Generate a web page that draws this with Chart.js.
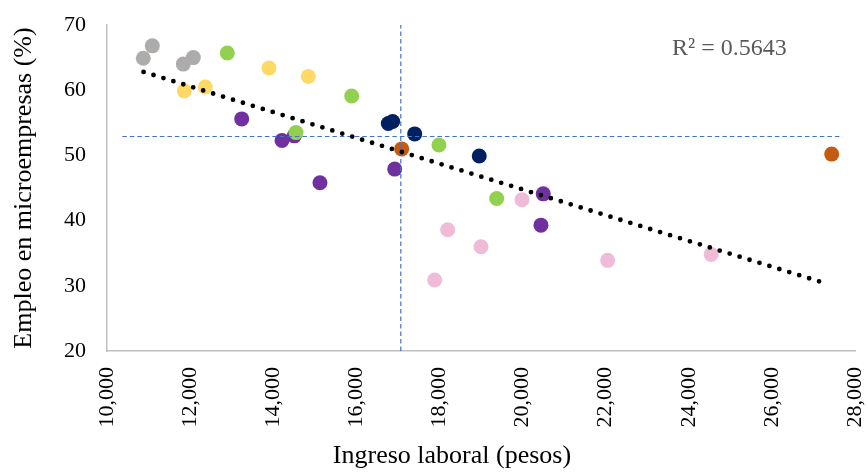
<!DOCTYPE html>
<html>
<head>
<meta charset="utf-8">
<script src="https://cdn.jsdelivr.net/npm/chart.js@4.4.1/dist/chart.umd.min.js"></script>
<style>
  body { margin: 0; background: #fff; }
  canvas { display: block; }
</style>
</head>
<body>
<canvas id="scatter-chart" width="868" height="472"></canvas>
<script>
// puntos por grupo (ingreso laboral, % empleo en microempresas)
const grisX = [10873, 11090, 11836, 12077];
const grisY = [64.9, 66.8, 64.0, 65.0];
const amarilloX = [11860, 12365, 13898, 14844];
const amarilloY = [59.9, 60.5, 63.4, 62.1];
const verdeX = [12895, 15888, 14548, 17988, 19377];
const verdeY = [65.7, 59.1, 53.5, 51.6, 43.4];
const moradoX = [13241, 14211, 14507, 15125, 16923, 20498, 20443];
const moradoY = [55.6, 52.3, 53.0, 45.8, 47.9, 44.1, 39.3];
const azulX = [16769, 16874, 17404, 18958];
const azulY = [54.9, 55.2, 53.3, 49.9];
const naranjaX = [17091, 27439];
const naranjaY = [51.0, 50.2];
const rosaX = [19986, 18198, 19000, 17885, 22048, 24540];
const rosaY = [43.2, 38.6, 36.0, 30.9, 33.9, 34.8];

// linea de tendencia y promedios
const tendenciaX = [10880, 27230];
const tendenciaY = [62.8, 30.5];
const promedioIngreso = 17070;
const promedioEmpleo = 52.9;
const rangoIngreso = [10370, 27700];
const rangoEmpleo = [20, 70];
const r2Texto = 'R² = 0.5643';

const xTicks = [10000, 28000, 2000];
const yTicks = [20, 70, 10];

const toPoints = (xs, ys) => xs.map((x, i) => ({ x: x, y: ys[i] }));

const fuente = '"Liberation Serif", "Times New Roman", serif';

function puntos(xs, ys, color) {
  return {
    data: toPoints(xs, ys),
    backgroundColor: color,
    borderWidth: 0,
    pointRadius: 7.5,
    pointHoverRadius: 7.5,
    showLine: false
  };
}

const textoExtra = {
  id: 'textoExtra',
  afterDraw(chart) {
    const ctx = chart.ctx;
    ctx.save();
    ctx.font = '24px ' + fuente;
    ctx.fillStyle = '#595959';
    ctx.textAlign = 'left';
    ctx.textBaseline = 'alphabetic';
    ctx.fillText(r2Texto, 672, 55);
    ctx.font = '26px ' + fuente;
    ctx.fillStyle = '#000';
    ctx.textAlign = 'center';
    ctx.textBaseline = 'middle';
    ctx.fillText('Ingreso laboral (pesos)', 452, 456);
    ctx.restore();
  }
};

const ctx = document.getElementById('scatter-chart').getContext('2d');
const chart = new Chart(ctx, {
  type: 'scatter',
  data: {
    datasets: [
      {
        data: toPoints(tendenciaX, tendenciaY),
        showLine: true,
        borderColor: '#000',
        borderWidth: 4.8,
        borderDash: [0, 10.4],
        borderCapStyle: 'round',
        pointRadius: 0,
        fill: false
      },
      {
        data: toPoints(rangoIngreso, [promedioEmpleo, promedioEmpleo]),
        showLine: true,
        borderColor: '#4472C4',
        borderWidth: 1.2,
        borderDash: [4.5, 3],
        pointRadius: 0
      },
      {
        data: toPoints([promedioIngreso, promedioIngreso], rangoEmpleo),
        showLine: true,
        borderColor: '#4472C4',
        borderWidth: 1.2,
        borderDash: [4.5, 3],
        pointRadius: 0
      },
      puntos(naranjaX, naranjaY, '#C55A11'),
      puntos(azulX, azulY, '#002060'),
      puntos(verdeX, verdeY, '#92D050'),
      puntos(moradoX, moradoY, '#7030A0'),
      puntos(rosaX, rosaY, '#F0BBD7'),
      puntos(amarilloX, amarilloY, '#FFD966'),
      puntos(grisX, grisY, '#AEABAB')
    ]
  },
  options: {
    responsive: false,
    animation: false,
    events: [],
    layout: { padding: { left: 0, right: 13, top: 25, bottom: 0 } },
    plugins: {
      legend: { display: false },
      tooltip: { enabled: false }
    },
    scales: {
      x: {
        type: 'linear',
        min: xTicks[0],
        max: xTicks[1],
        grid: { display: false, drawTicks: false },
        border: { display: true, color: '#BFBFBF', width: 1.5 },
        ticks: {
          stepSize: xTicks[2],
          minRotation: 90,
          maxRotation: 90,
          padding: 16,
          color: '#000',
          font: { family: fuente, size: 22 },
          callback: v => v.toLocaleString('en-US')
        },
        afterFit: s => { s.height = 121; s.paddingLeft = 0; s.paddingRight = 0; }
      },
      y: {
        min: yTicks[0],
        max: yTicks[1],
        grid: { display: false, drawTicks: false },
        border: { display: true, color: '#BFBFBF', width: 1.5 },
        ticks: {
          stepSize: yTicks[2],
          padding: 21,
          color: '#000',
          font: { family: fuente, size: 22 }
        },
        title: {
          display: true,
          text: 'Empleo en microempresas (%)',
          color: '#000',
          font: { family: fuente, size: 26 },
          padding: { top: 9, bottom: 0 }
        },
        afterFit: s => { s.width = 107; s.paddingTop = 0; s.paddingBottom = 0; }
      }
    }
  },
  plugins: [textoExtra]
});
</script>
</body>
</html>
